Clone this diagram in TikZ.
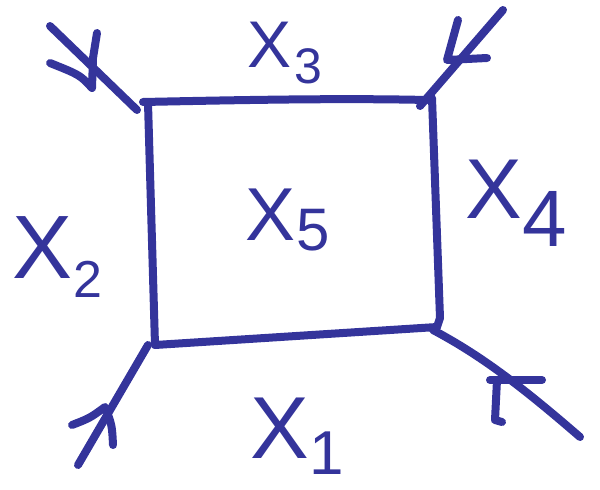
\documentclass[tikz,border=0pt]{standalone}
\usepackage{fontspec}
\setmainfont{Liberation Sans}
\definecolor{ink}{RGB}{52,52,155}
\newcommand\xlab[5]{{\fontsize{#1}{#1}\selectfont X}\kern#3pt\raisebox{-#4pt}{\fontsize{#2}{#2}\selectfont #5}}
\begin{document}
\begin{tikzpicture}[x=1pt,y=-1pt,
  pen/.style={draw=ink,line width=8pt,line cap=round,line join=round},
  lab/.style={text=ink,inner sep=0pt,anchor=base west}]
\useasboundingbox (0,0) rectangle (600,490);
% box corners
\coordinate (tl) at (143,102);
\coordinate (tr) at (427,100);
\coordinate (br) at (437,327);
\coordinate (bl) at (155,345);
% box
\draw[pen] (tl) .. controls (240,100) and (340,98) .. (tr);
\draw[pen] (148,103) -- (bl);
\draw[pen] (bl) -- (br);
\draw[pen] (432,98) -- (440,318) -- (br);
% legs
\coordinate (e1) at (50,26);
\coordinate (e2) at (503,10);
\coordinate (e3) at (78,465);
\coordinate (e4) at (580,437);
\draw[pen] (137,110) -- (e1);
\draw[pen] (420,106) -- (e2);
\draw[pen] (148,345) -- (e3);
\draw[pen] (433,330) .. controls (480,355) and (520,385) .. (e4);
% arrowheads
\draw[pen] (97,33) -- (93,58) -- (92,88) .. controls (80,75) .. (50,63);
\draw[pen] (458,20) -- (447,60) -- (487,58);
\draw[pen] (72,425) .. controls (90,418) .. (105,407) .. controls (112,425) .. (113,445);
\draw[pen] (490,380) -- (542,380);
\draw[pen] (497,380) -- (495,420) -- (502,422);
% labels
\node[lab] (x3) at (247,67) {\xlab{66}{50}{3}{16}{3}};
\node[lab] (x5) at (245,240) {\xlab{75}{60}{1}{10}{5}};
\node[lab] (x2) at (12,278) {\xlab{90}{52}{1}{19}{2}};
\node[lab] (x4) at (465,218) {\xlab{85}{80}{1}{28}{4}};
\node[lab] (x1) at (250,458) {\xlab{88}{62}{1}{16}{1}};
\end{tikzpicture}
\end{document}
